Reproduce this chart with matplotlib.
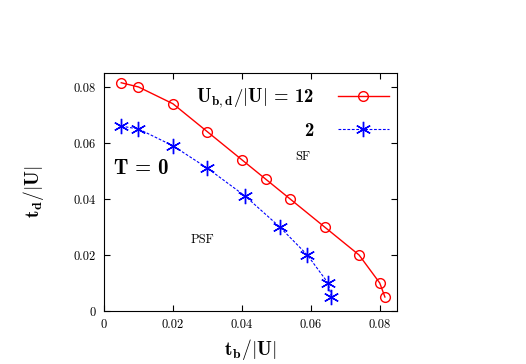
import matplotlib
matplotlib.use("Agg")
import matplotlib.pyplot as plt
from matplotlib.ticker import FuncFormatter

plt.rcParams['mathtext.fontset'] = 'cm'
plt.rcParams['font.family'] = 'serif'
plt.rcParams['font.serif'] = ['cmr10', 'DejaVu Serif']
plt.rcParams['axes.formatter.use_mathtext'] = True

tb_12 = [0.005, 0.010, 0.020, 0.030, 0.040, 0.047, 0.054, 0.064, 0.074, 0.080, 0.0815]
td_12 = [0.0815, 0.080, 0.074, 0.064, 0.054, 0.047, 0.040, 0.030, 0.020, 0.010, 0.005]
tb_2 = [0.005, 0.010, 0.020, 0.030, 0.041, 0.051, 0.059, 0.065, 0.066]
td_2 = [0.066, 0.065, 0.059, 0.051, 0.041, 0.030, 0.020, 0.010, 0.005]
xticks = [0, 0.02, 0.04, 0.06, 0.08]
yticks = [0, 0.02, 0.04, 0.06, 0.08]

fig = plt.figure(figsize=(5.26, 3.64), dpi=100)
ax = fig.add_axes([0.1977, 0.1456, 0.557, 0.654])
ax.plot(tb_12, td_12, color='red', lw=1.0, marker='o', ms=7, mfc='none', mec='red',
        label=r'$\mathbf{U_{b,d}/|U|}$ = 12')
ax.plot(tb_2, td_2, color='blue', lw=0.8, ls=(0, (2.5, 1.5)), marker=(6, 2, 0), ms=11,
        mfc='blue', mec='blue', mew=1.0, label='2')

ax.set_xlim(0, 0.085)
ax.set_ylim(0, 0.085)
ax.set_xticks(xticks)
ax.set_yticks(yticks)
fmt = FuncFormatter(lambda v, p: '0' if v == 0 else f'{v:.2f}')
ax.xaxis.set_major_formatter(fmt)
ax.yaxis.set_major_formatter(fmt)
ax.tick_params(direction='in', top=True, right=True, labelsize=9, length=4, pad=6)

ax.set_xlabel(r'$\mathbf{t_b/|U|}$', fontsize=14, labelpad=4)
ax.set_ylabel(r'$\mathbf{t_d/|U|}$', fontsize=14, labelpad=20)

ax.text(0.0108, 0.051, r'$\mathbf{T}$ = 0', fontsize=15, ha='center', va='center',
        family=['cmb10', 'DejaVu Serif'])
ax.text(0.0576, 0.055, 'SF', fontsize=9, ha='center', va='center')
ax.text(0.0285, 0.0254, 'PSF', fontsize=9, ha='center', va='center')

ax.legend(loc='upper right', bbox_to_anchor=(1.0, 0.978), frameon=False, markerfirst=False,
          prop={'family': ['cmb10', 'DejaVu Serif'], 'size': 13.5},
          handlelength=2.7, borderpad=0.2, borderaxespad=0.25, labelspacing=0.62,
          handletextpad=1.3)

fig.savefig('out.png', dpi=100)
